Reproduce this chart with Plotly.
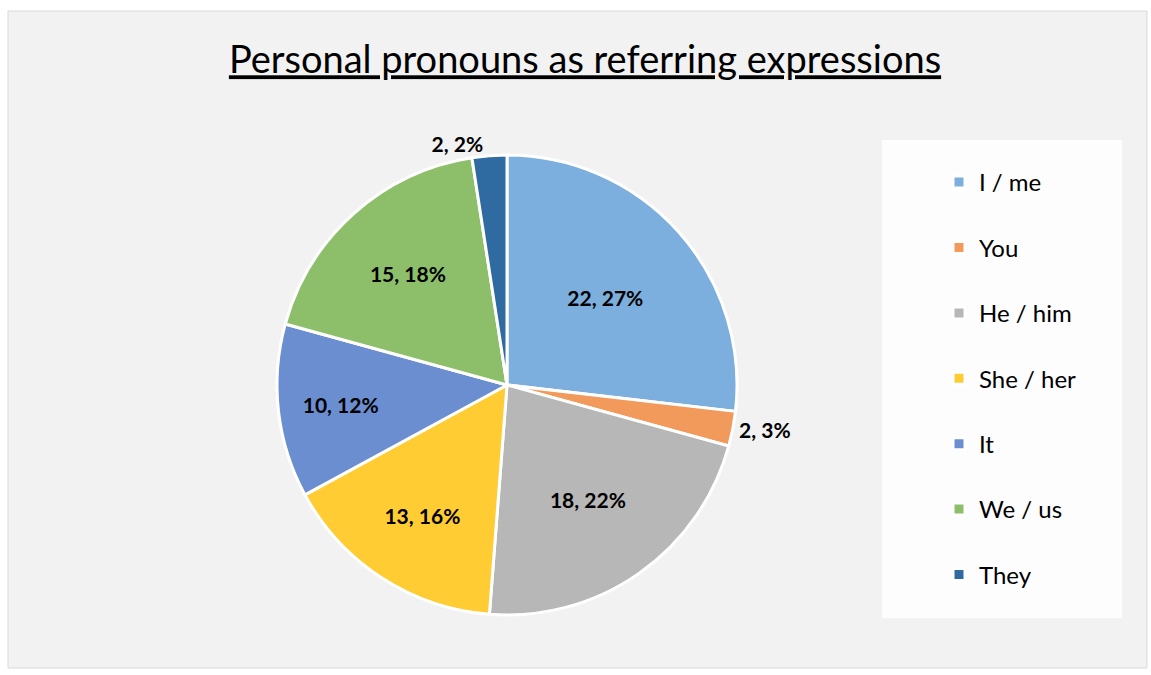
import plotly.graph_objects as go

labels = ["I / me", "You", "He / him", "She / her", "It", "We / us", "They"]
values = [22, 2, 18, 13, 10, 15, 2]
percent_labels = [27, 3, 22, 16, 12, 18, 2]
colors = ["#7CAFDD", "#F19A5C", "#B7B7B7", "#FFCC33", "#6A8ED0", "#8DBF6B", "#2F6AA0"]
title_text = "Personal pronouns as referring expressions"

texts = [f"<b>{v}, {p}%</b>" for v, p in zip(values, percent_labels)]
positions = ["inside" if v >= 5 else "outside" for v in values]
legend_names = [f"{l}<br> " for l in labels]

W, H = 1151, 675
cx, cy, r = 507, 385, 230

fig = go.Figure(go.Pie(
    labels=legend_names,
    values=values,
    text=texts,
    textinfo="text",
    textposition=positions,
    insidetextorientation="horizontal",
    sort=False,
    direction="clockwise",
    rotation=0,
    marker=dict(colors=colors, line=dict(color="white", width=3)),
    textfont=dict(family="Lato", size=21, color="black"),
    domain=dict(x=[(cx - r) / W, (cx + r) / W], y=[1 - (cy + r) / H, 1 - (cy - r) / H]),
    hovertemplate="%{value}<extra></extra>",
))

fig.update_layout(
    width=W, height=H,
    margin=dict(l=0, r=0, t=0, b=0),
    paper_bgcolor="white",
    plot_bgcolor="white",
    title=dict(text=f"<u>{title_text}</u>", x=585 / W, xanchor="center", y=1 - 60 / H, yanchor="middle",
               font=dict(family="Lato", size=38, color="black")),
    legend=dict(x=939 / W, xanchor="left", y=1 - 160 / H, yanchor="top",
                font=dict(family="Lato", size=24, color="black"),
                bgcolor="rgba(0,0,0,0)", valign="top", itemclick=False),
    shapes=[
        dict(type="rect", xref="paper", yref="paper", x0=8 / W, x1=1147 / W, y0=1 - 668 / H, y1=1 - 11 / H,
             fillcolor="#F2F2F2", line=dict(color="#D9D9D9", width=1), layer="below"),
        dict(type="rect", xref="paper", yref="paper", x0=882 / W, x1=1122 / W, y0=1 - 618 / H, y1=1 - 140 / H,
             fillcolor="rgba(255,255,255,0.8)", line=dict(width=0), layer="below"),
    ],
)

fig.write_html("out.html")
